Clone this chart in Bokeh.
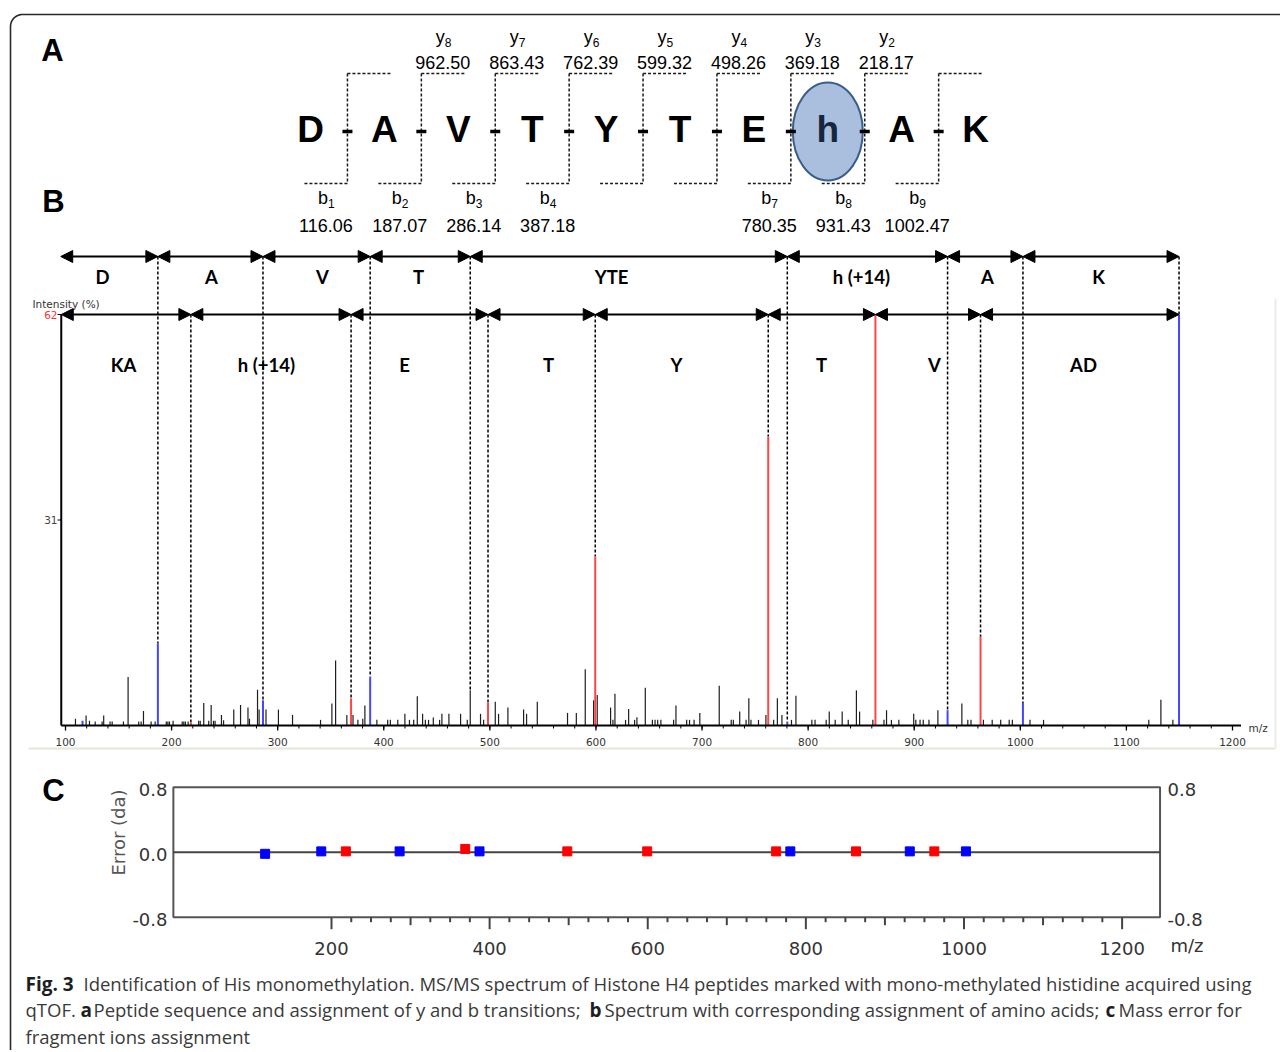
import numpy as np
from bokeh.plotting import figure
from bokeh.models import Range1d, ColumnDataSource, Arrow, NormalHead
from bokeh.core.properties import value
from bokeh.embed import file_html
from bokeh.resources import INLINE

# ---------------- data ----------------
SEQUENCE = ["D", "A", "V", "T", "Y", "T", "E", "h", "A", "K"]
MODIFIED_RESIDUE = 7

Y_ION_NUM = [8, 7, 6, 5, 4, 3, 2]
Y_ION_MZ = [962.50, 863.43, 762.39, 599.32, 498.26, 369.18, 218.17]
Y_ION_INT = [13.4, 62.0, 43.6, 25.5, 3.5, 4.1, 0.5]
Y_ION_ERR = [0.01, 0.01, 0.01, 0.01, 0.01, 0.04, 0.01]

B_ION_NUM = [1, 2, 3, 4, 7, 8, 9]
B_ION_MZ = [116.06, 187.07, 286.14, 387.18, 780.35, 931.43, 1002.47]
B_ION_INT = [0.7, 12.4, 3.8, 7.4, 0.6, 2.3, 3.4]
B_ION_ERR = [-0.02, 0.01, 0.01, 0.01, 0.01, 0.01, 0.01]

PRECURSOR_MZ = 1149.6
PRECURSOR_INT = 62.0

OTHER_MZ = [109.4, 119.4, 122.6, 128.0, 134.5, 136.0, 142.0, 144.0, 154.6, 159.0,
            169.0, 171.3, 173.5, 180.7, 184.5, 195.0, 196.5, 198.0, 201.4, 210.0,
            211.5, 213.0, 215.6, 225.5, 227.0, 230.3, 235.0, 237.3, 239.5, 241.0,
            247.0, 249.0, 258.6, 265.0, 272.0, 273.4, 281.0, 282.5, 289.0, 300.7,
            314.0, 340.4, 351.1, 354.6, 365.2, 371.0, 375.6, 380.2, 382.2, 393.5,
            403.7, 406.2, 413.2, 419.9, 424.2, 428.2, 431.6, 436.6, 439.2, 442.2,
            446.7, 452.6, 454.8, 461.4, 472.4, 478.7, 481.5, 491.2, 494.1, 505.1,
            508.2, 517.0, 531.8, 534.6, 544.7, 573.2, 581.5, 589.9, 597.8, 601.2,
            613.8, 616.0, 617.9, 627.9, 630.8, 636.4, 638.6, 646.5, 653.2, 655.7,
            658.2, 661.2, 673.2, 675.4, 685.5, 688.2, 692.5, 697.9, 716.2, 727.5,
            729.5, 735.5, 741.5, 744.1, 746.1, 753.2, 760.2, 767.5, 771.0, 775.3,
            784.3, 788.5, 803.5, 806.5, 817.0, 819.9, 825.5, 832.1, 837.8, 845.5,
            848.5, 861.0, 871.5, 873.9, 878.5, 885.5, 899.5, 901.5, 905.5, 908.5,
            913.9, 922.3, 944.9, 950.5, 953.5, 965.2, 973.5, 981.5, 989.5, 992.5,
            1009.1, 1021.9, 1121.1, 1132.5, 1143.8]
OTHER_INT = [1.0, 1.5, 0.7, 0.6, 0.6, 1.5, 0.6, 0.6, 0.6, 7.3,
             0.6, 0.6, 2.2, 0.6, 0.6, 0.6, 0.6, 0.6, 0.7, 0.6,
             0.6, 0.6, 0.6, 0.7, 0.7, 3.4, 0.7, 3.1, 0.7, 0.7,
             1.6, 0.8, 2.4, 3.1, 2.7, 1.0, 5.4, 2.4, 2.4, 2.4,
             1.6, 0.85, 3.3, 9.8, 1.6, 1.6, 0.85, 1.0, 3.0, 0.85,
             0.85, 0.85, 0.85, 1.76, 0.85, 0.85, 4.4, 1.76, 0.85, 0.85,
             1.2, 0.85, 1.76, 1.76, 1.76, 0.85, 5.3, 1.76, 0.85, 3.6,
             1.76, 2.7, 2.4, 1.76, 3.6, 1.9, 1.9, 8.5, 3.8, 4.6,
             2.7, 0.85, 4.8, 0.85, 2.5, 0.85, 1.26, 5.7, 0.85, 0.85,
             0.85, 0.85, 0.85, 3.0, 0.85, 0.85, 0.85, 1.9, 6.0, 0.85,
             0.85, 2.1, 0.85, 4.1, 0.85, 0.85, 1.6, 0.85, 4.1, 1.6,
             0.85, 4.5, 0.85, 0.85, 0.85, 2.1, 0.85, 2.1, 0.85, 5.3,
             2.1, 0.85, 0.85, 2.3, 0.85, 0.85, 1.76, 0.85, 0.85, 0.85,
             0.85, 2.3, 3.3, 0.85, 0.85, 0.85, 0.85, 0.85, 0.85, 0.85,
             0.85, 0.85, 0.85, 3.9, 0.85]

SPEC_START_MZ = 96.0
TOP_SEG_LABELS = ["D", "A", "V", "T", "YTE", "h (+14)", "A", "K"]
TOP_SEG_BREAKS = [187.07, 286.14, 387.18, 481.5, 780.35, 931.43, 1002.47, 1149.6]
LOW_SEG_LABELS = ["KA", "h (+14)", "E", "T", "Y", "T", "V", "AD"]
LOW_SEG_BREAKS = [218.17, 369.18, 498.26, 599.32, 762.39, 863.43, 962.50, 1149.6]

INT_TICKS = [31, 62]
MZ_TICKS = [100, 200, 300, 400, 500, 600, 700, 800, 900, 1000, 1100, 1200]
ERR_TICKS = [0.8, 0.0, -0.8]
ERR_RIGHT_TICKS = [0.8, -0.8]
ERR_MZ_TICKS = [200, 400, 600, 800, 1000, 1200]

CAPTION = [
    ("Fig. 3", True, 25, 983),
    ("Identification of His monomethylation. MS/MS spectrum of Histone H4 peptides marked with mono-methylated histidine acquired using", False, 83, 983),
    ("qTOF.", False, 25, 1009),
    ("a", True, 80, 1009),
    ("Peptide sequence and assignment of y and b transitions;", False, 93, 1009),
    ("b", True, 589, 1009),
    ("Spectrum with corresponding assignment of amino acids;", False, 604, 1009),
    ("c", True, 1105, 1009),
    ("Mass error for", False, 1118, 1009),
    ("fragment ions assignment", False, 25, 1036),
]

# ---------------- layout ----------------
W, H = 1280, 1050
X0, Y0 = 0, 0


def make_range(v1, px1, v2, px2, px_start, px_end):
    k = (v2 - v1) / (px2 - px1)
    return Range1d(start=v1 + (px_start - px1) * k, end=v1 + (px_end - px1) * k)


p = figure(width=W, height=H, x_range=Range1d(X0, X0 + W), y_range=Range1d(Y0 + H, Y0),
           x_axis_type=None, y_axis_type=None, output_backend="svg",
           toolbar_location=None, min_border=0)
p.grid.visible = False
p.outline_line_color = None
p.background_fill_color = "white"
p.border_fill_color = "white"

# spectrum scales (panel B) and error scales (panel C)
SP_BASE, SP_TOP = 725, 314
p.extra_x_ranges = {"mz": make_range(100, 65, 1200, 1232, X0, X0 + W),
                    "emz": make_range(200, 331, 1200, 1121.6, X0, X0 + W)}
p.extra_y_ranges = {"int": make_range(0, SP_BASE, 62, SP_TOP, Y0 + H, Y0),
                    "err": make_range(-0.8, 916.7, 0.8, 786.7, Y0 + H, Y0)}
INT_PER_PX = 62.0 / (SP_BASE - SP_TOP)
ERR_PER_PX = 1.6 / (916.7 - 786.7)

R = dict(x_range_name="mz", y_range_name="int")
E = dict(x_range_name="emz", y_range_name="err")

LABEL_FONT = value("Liberation Sans")
TAHOMA = value("DejaVu Sans")

# ---------- outer rounded border ----------
rad = 12
th = np.linspace(np.pi, 1.5 * np.pi, 20)
bx = [10] + list(10 + rad + rad * np.cos(th)) + [1280]
by = [1050] + list(14 + rad + rad * np.sin(th)) + [14]
p.line(bx, by, line_color="#2a2a2a", line_width=1.6)

# panel letters
p.text(x=[52, 53, 53], y=[50, 201, 790], text=["A", "B", "C"], text_font=LABEL_FONT,
       text_font_style="bold", text_font_size=value("31px"), text_align="center",
       text_baseline="middle", text_color="black")

# ---------- panel A: peptide ----------
n = len(SEQUENCE)
LX0, LDX = 310, 73.9
letter_x = [LX0 + i * LDX for i in range(n)]
junction_x = [(letter_x[i] + letter_x[i + 1]) / 2 for i in range(n - 1)]
LET_Y, TOPB_Y, BOTB_Y, BR = 129, 73, 183, 43

mx = letter_x[MODIFIED_RESIDUE]
p.ellipse(x=[mx], y=[131], width=70, height=98, fill_color="#a9bfdd",
          line_color="#3b5d8d", line_width=2)

dash = "3 2"
p.segment(x0=junction_x, y0=TOPB_Y, x1=junction_x, y1=BOTB_Y, line_color="#1a1a1a",
          line_width=1.5, line_dash=dash)
p.segment(x0=junction_x, y0=TOPB_Y, x1=[j + BR for j in junction_x], y1=TOPB_Y,
          line_color="#1a1a1a", line_width=1.5, line_dash=dash)
p.segment(x0=[j - BR for j in junction_x], y0=BOTB_Y, x1=junction_x, y1=BOTB_Y,
          line_color="#1a1a1a", line_width=1.5, line_dash=dash)
p.segment(x0=[j - 5 for j in junction_x], y0=131, x1=[j + 5 for j in junction_x], y1=131,
          line_color="black", line_width=3.5)

colors = ["black"] * n
colors[MODIFIED_RESIDUE] = "#17263f"
p.text(x=letter_x, y=[LET_Y] * n, text=SEQUENCE, text_color=colors, text_font=LABEL_FONT,
       text_font_style="bold", text_font_size=value("37px"), text_align="center",
       text_baseline="middle")

# y ions (above)
yx = [junction_x[9 - k] + BR / 2 for k in Y_ION_NUM]
p.text(x=[v + 2 for v in yx], y=[36] * len(yx), text=["y"] * len(yx), text_font=LABEL_FONT,
       text_font_size=value("18px"), text_align="right", text_baseline="middle",
       text_color="black")
p.text(x=[v + 2 for v in yx], y=[42] * len(yx), text=[str(k) for k in Y_ION_NUM],
       text_font=LABEL_FONT, text_font_size=value("12px"), text_align="left",
       text_baseline="middle", text_color="black")
p.text(x=yx, y=[62] * len(yx), text=["%.2f" % v for v in Y_ION_MZ], text_font=LABEL_FONT,
       text_font_size=value("18px"), text_align="center", text_baseline="middle",
       text_color="black")

# b ions (below)
bxs = [junction_x[k - 1] - BR / 2 for k in B_ION_NUM]
p.text(x=[v + 2 for v in bxs], y=[197] * len(bxs), text=["b"] * len(bxs), text_font=LABEL_FONT,
       text_font_size=value("18px"), text_align="right", text_baseline="middle",
       text_color="black")
p.text(x=[v + 2 for v in bxs], y=[203] * len(bxs), text=[str(k) for k in B_ION_NUM],
       text_font=LABEL_FONT, text_font_size=value("12px"), text_align="left",
       text_baseline="middle", text_color="black")
p.text(x=bxs, y=[225] * len(bxs), text=["%.2f" % v for v in B_ION_MZ], text_font=LABEL_FONT,
       text_font_size=value("18px"), text_align="center", text_baseline="middle",
       text_color="black")

# ---------- panel B: spectrum ----------
# faint frame of the embedded screenshot
p.segment(x0=[28], y0=[748], x1=[1275], y1=[748], line_color="#e6e6da", line_width=2)
p.segment(x0=[1275], y0=[298], x1=[1275], y1=[748], line_color="#ececec", line_width=2)

p.segment(x0=OTHER_MZ, y0=0, x1=OTHER_MZ, y1=OTHER_INT, line_color="#1e1e1e",
          line_width=1.2, **R)

all_mz = np.array(OTHER_MZ + B_ION_MZ + Y_ION_MZ + [PRECURSOR_MZ])
all_int = np.array(OTHER_INT + B_ION_INT + Y_ION_INT + [PRECURSOR_INT])


def peak_top(mz):
    near = np.abs(all_mz - mz) < 0.8
    return float(all_int[near].max()) if near.any() else 0.0


ROW_TOP = (SP_BASE - 256) * INT_PER_PX
ROW_LOW = 62.0

p.segment(x0=TOP_SEG_BREAKS, y0=ROW_TOP, x1=TOP_SEG_BREAKS,
          y1=[peak_top(m) for m in TOP_SEG_BREAKS], line_color="black", line_width=1.5,
          line_dash=dash, **R)
low_d = [m for m in LOW_SEG_BREAKS if peak_top(m) < ROW_LOW]
p.segment(x0=low_d, y0=ROW_LOW, x1=low_d, y1=[peak_top(m) for m in low_d],
          line_color="black", line_width=1.5, line_dash=dash, **R)

p.segment(x0=Y_ION_MZ, y0=0, x1=Y_ION_MZ, y1=Y_ION_INT, line_color="#ff4545",
          line_width=2, **R)
p.segment(x0=B_ION_MZ + [PRECURSOR_MZ], y0=0, x1=B_ION_MZ + [PRECURSOR_MZ],
          y1=B_ION_INT + [PRECURSOR_INT], line_color="#4646ff", line_width=2, **R)

# axes of spectrum
p.segment(x0=[SPEC_START_MZ], y0=[0], x1=[SPEC_START_MZ], y1=[62], line_color="black",
          line_width=2, **R)
p.segment(x0=[SPEC_START_MZ], y0=[0], x1=[1208], y1=[0], line_color="black",
          line_width=2, **R)
minor = list(range(100, 1201, 20))
p.segment(x0=minor, y0=0, x1=minor, y1=-3 * INT_PER_PX, line_color="black", line_width=1, **R)
p.segment(x0=MZ_TICKS, y0=0, x1=MZ_TICKS, y1=-5 * INT_PER_PX, line_color="black",
          line_width=1.3, **R)
p.text(x=MZ_TICKS, y=-16 * INT_PER_PX, text=[str(t) for t in MZ_TICKS], text_font=TAHOMA,
       text_font_size=value("10.5px"), text_align="center", text_baseline="middle",
       text_color="#333333", **R)
p.text(x=[1215], y=-2 * INT_PER_PX, text=["m/z"], text_font=TAHOMA,
       text_font_size=value("10.5px"), text_align="left", text_baseline="middle",
       text_color="#333333", **R)
p.segment(x0=57, y0=INT_TICKS, x1=61, y1=INT_TICKS, line_color="black", line_width=1,
          y_range_name="int")
p.text(x=[57, 57], y=INT_TICKS, text=[str(t) for t in INT_TICKS], text_font=TAHOMA,
       text_font_size=value("10.5px"), text_align="right", text_baseline="middle",
       text_color=["#444444", "#ff3030"], y_range_name="int")
p.text(x=[32], y=[303], text=["Intensity (%)"], text_font=TAHOMA,
       text_font_size=value("10.5px"), text_align="left", text_baseline="middle",
       text_color="#333333")

# double-headed arrows
for starts, breaks, row in [([SPEC_START_MZ - 0.5] + TOP_SEG_BREAKS[:-1], TOP_SEG_BREAKS, ROW_TOP),
                            ([SPEC_START_MZ] + LOW_SEG_BREAKS[:-1], LOW_SEG_BREAKS, ROW_LOW)]:
    src = ColumnDataSource(dict(x0=starts, x1=breaks, y=[row] * len(breaks)))
    p.add_layout(Arrow(start=NormalHead(size=12, fill_color="black", line_color="black"),
                       end=NormalHead(size=12, fill_color="black", line_color="black"),
                       x_start="x0", y_start="y", x_end="x1", y_end="y", source=src,
                       line_width=2, line_color="black", x_range_name="mz",
                       y_range_name="int"))

TOP_LABEL_X = [102, 211, 322, 418, 611, 861, 987, 1098]
LOW_LABEL_X = [123, 266, 404, 548, 676, 821, 934, 1083]
SEG_FONT = value("Lato")
p.text(x=TOP_LABEL_X, y=[276] * 8, text=TOP_SEG_LABELS, text_font=SEG_FONT,
       text_font_style="bold", text_font_size=value("18.5px"), text_align="center",
       text_baseline="middle", text_color="black")
p.text(x=LOW_LABEL_X, y=[364] * 8, text=LOW_SEG_LABELS, text_font=SEG_FONT,
       text_font_style="bold", text_font_size=value("18.5px"), text_align="center",
       text_baseline="middle", text_color="black")

# ---------- panel C: mass error ----------
BOX_R = 1248
p.quad(left=[0], right=[BOX_R], bottom=[-0.8], top=[0.8], fill_color=None,
       line_color="#555555", line_width=2, **E)
p.segment(x0=[0], y0=[0], x1=[BOX_R], y1=[0], line_color="#444444", line_width=2, **E)
ticks25 = [t for t in range(200, 1201, 25)]
tlen = [12 if t % 200 == 0 else (8 if t % 100 == 0 else 5) for t in ticks25]
p.segment(x0=ticks25, y0=-0.8, x1=ticks25, y1=[-0.8 - L * ERR_PER_PX for L in tlen],
          line_color="#444444", line_width=2, **E)
p.text(x=ERR_MZ_TICKS, y=-0.8 - 31 * ERR_PER_PX, text=[str(t) for t in ERR_MZ_TICKS],
       text_font=TAHOMA, text_font_size=value("18px"), text_align="center",
       text_baseline="middle", text_color="#333333", **E)
p.text(x=[1170], y=[-0.8 - 28 * ERR_PER_PX], text=["m/z"], text_font=TAHOMA,
       text_font_size=value("18px"), text_align="left", text_baseline="middle",
       text_color="#333333", y_range_name="err")
p.text(x=[167] * 3, y=ERR_TICKS, text=["%.1f" % t for t in ERR_TICKS], text_font=TAHOMA,
       text_font_size=value("18px"), text_align="right", text_baseline="middle",
       y_offset=2, text_color="#333333", y_range_name="err")
p.text(x=[1167] * 2, y=ERR_RIGHT_TICKS, text=["%.1f" % t for t in ERR_RIGHT_TICKS],
       text_font=TAHOMA, text_font_size=value("18px"), text_align="left",
       text_baseline="middle", y_offset=2, text_color="#333333", y_range_name="err")
p.text(x=[118], y=[832], text=["Error (da)"], angle=np.pi / 2, text_font=TAHOMA,
       text_font_size=value("18px"), text_align="center", text_baseline="middle",
       text_color="#555555")

p.scatter(x=B_ION_MZ, y=B_ION_ERR, marker="square", size=9, fill_color="#0000ff",
          line_color="#0000ff", **E)
p.scatter(x=Y_ION_MZ, y=Y_ION_ERR, marker="square", size=9, fill_color="#ff0000",
          line_color="#ff0000", **E)

# ---------- caption ----------
CAP_FONT = value("Open Sans")
for txt, bold, cx, cy in CAPTION:
    p.text(x=[cx], y=[cy], text=[txt], text_font=CAP_FONT,
           text_font_style="bold" if bold else "normal",
           text_font_size=value("19px" if bold else "18.5px"),
           text_align="left", text_baseline="middle",
           text_color="#1e1e1e" if bold else "#3a3a3a")

open("out.html", "w").write(file_html(p, INLINE))
